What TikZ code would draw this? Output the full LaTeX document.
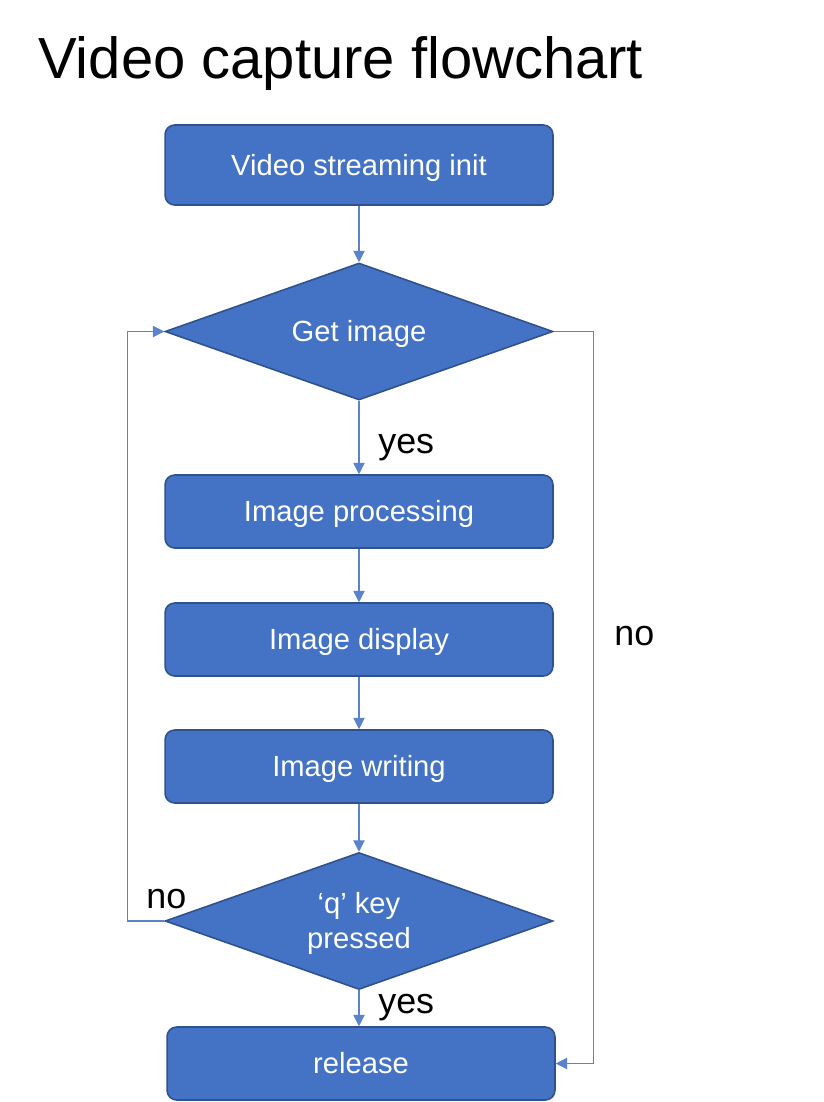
\documentclass[tikz,border=0pt]{standalone}
\usepackage{fontspec}
\setmainfont{Liberation Sans}
\usetikzlibrary{shapes.geometric,arrows.meta}
\definecolor{officeblue}{HTML}{4472C4}
\definecolor{officeedge}{HTML}{2F528F}
\definecolor{linkblue}{HTML}{5B82CC}
\tikzset{
    stepbox/.style={draw=officeedge, fill=officeblue, line width=0.9pt,
        rounded corners=5.5pt, minimum width=7.76cm, minimum height=1.46cm,
        inner sep=0pt, text height=11.7pt, text depth=0pt,
        text=white, font=\fontsize{16.6}{20}\selectfont},
    choice/.style={diamond, draw=officeedge, fill=officeblue, line width=0.9pt,
        aspect=2.83, minimum width=7.76cm, minimum height=2.74cm, inner sep=0pt,
        text height=11.7pt, text depth=0pt,
        align=center, text=white, font=\fontsize{16.6}{20}\selectfont},
    link/.style={draw=linkblue, line width=0.6pt, -{Triangle[length=6.5pt,width=6.5pt]}},
    answer/.style={anchor=base west, inner sep=0pt, font=\fontsize{20.4}{24}\selectfont},
}
\begin{document}
\begin{tikzpicture}[x=0.02cm, y=-0.02cm]
    \useasboundingbox (0, 0) rectangle (823, 1102);
    \node[anchor=base west, inner sep=0pt, font=\fontsize{33}{40}\selectfont] (title) at (38, 78) {Video capture flowchart};

    \node[stepbox, minimum height=1.6cm] (init) at (359, 165) {Video streaming init};
    \node[choice] (get) at (359, 331.5) {Get image};
    \node[stepbox] (proc) at (359, 511.5) {Image processing};
    \node[stepbox] (disp) at (359, 639.5) {Image display};
    \node[stepbox] (write) at (359, 766.5) {Image writing};
    \node[choice, text height=31.7pt] (key) at (359, 921) {‘q’ key\\pressed};
    \node[stepbox] (rel) at (361, 1063.5) {release};

    \draw[link] (init) -- (get);
    \draw[link] (get) -- (proc);
    \draw[link] (proc) -- (disp);
    \draw[link] (disp) -- (write);
    \draw[link] (write) -- (key);
    \draw[link] (key.south) -- (key.south |- rel.north);
    % loops back and exit
    \draw[link] (key.west) -- ++(-37, 0) |- (get.west);
    \draw[link] (get.east) -- ++(40, 0) |- (rel.east);

    \node[answer] (yes1) at (378, 453) {yes};
    \node[answer] (yes2) at (378, 1013) {yes};
    \node[answer] (no1) at (614, 645) {no};
    \node[answer] (no2) at (146, 908) {no};
\end{tikzpicture}
\end{document}
